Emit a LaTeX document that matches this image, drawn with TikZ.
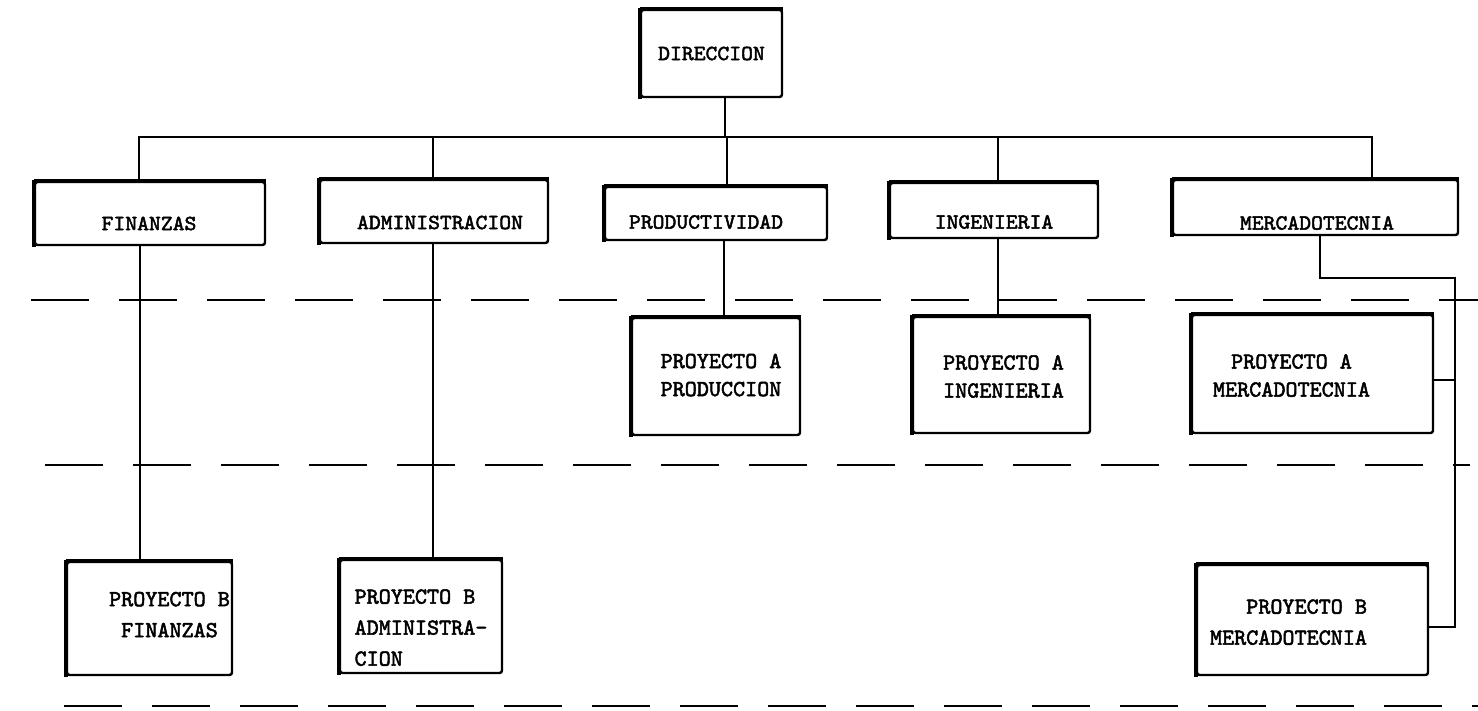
\documentclass[tikz,border=0pt]{standalone}
\usepackage{fontspec}
% slab-serif typewriter lettering, emboldened like a worn ribbon
\newfontfamily\typeA{lmmono10-regular.otf}[FakeBold=2.2,FakeStretch=1.05]
\newfontfamily\typeB{lmmono10-regular.otf}[FakeBold=2.2]
% move a label inside its box without changing the box size
\newcommand\moved[3]{\raisebox{#2}[\height][\depth]{\kern#1\relax#3\kern-#1\relax}}
\newcommand\lines[2]{\begin{tabular}{@{}#1@{}}#2\end{tabular}}

\begin{document}
\begin{tikzpicture}[x=1pt,y=-1pt,
  orgbox/.style={draw, line width=2.4pt, rounded corners=2.5pt, inner sep=0pt,
    font=\typeA\fontsize{21.5}{26}\selectfont},
  projbox/.style={orgbox, font=\typeB\fontsize{23}{28}\selectfont},
  projboxb/.style={orgbox, font=\typeB\fontsize{23}{31}\selectfont},
  conn/.style={line width=1.8pt},
  tier/.style={line width=2.4pt, dash pattern=on 58pt off 30pt}]
\useasboundingbox (0,0) rectangle (1478,711);

% phase separators
\draw[tier] (31,300) -- (1478,300);
\draw[tier] (45,465) -- (1470,465);
\draw[tier] (64,706) -- (1478,706);

% management and departments
\node[orgbox, minimum width=141pt, minimum height=87pt] (dir) at (711.5,53.5) {DIRECCION};
\node[orgbox, minimum width=230pt, minimum height=63pt] (fin) at (150,213.5) {\moved{-1pt}{-10pt}{FINANZAS}};
\node[orgbox, minimum width=228pt, minimum height=63pt] (adm) at (434,211.5) {\moved{6pt}{-11pt}{ADMINISTRACION}};
\node[orgbox, minimum width=222pt, minimum height=53pt] (prod) at (716,213.5) {\moved{-10pt}{-8.5pt}{PRODUCTIVIDAD}};
\node[orgbox, minimum width=208pt, minimum height=55pt] (ing) at (994,210.5) {\moved{0pt}{-11.5pt}{INGENIERIA}};
\node[orgbox, minimum width=285pt, minimum height=55pt] (merc) at (1315.5,207.5) {\moved{1.5pt}{-15.5pt}{MERCADOTECNIA}};

% project A
\node[projbox, minimum width=168pt, minimum height=117pt] (paprod) at (716,376.5) {\moved{5pt}{0pt}{\lines{c}{PROYECTO A\\PRODUCCION}}};
\node[projbox, minimum width=177pt, minimum height=116pt] (paing) at (1001.5,375) {\moved{2pt}{-3pt}{\lines{c}{PROYECTO A\\INGENIERIA}}};
\node[projbox, minimum width=241pt, minimum height=118pt] (pamerc) at (1312.5,374) {\moved{-21pt}{-3pt}{\lines{c}{PROYECTO A\\MERCADOTECNIA}}};

% project B
\node[projboxb, minimum width=165pt, minimum height=113pt] (pbfin) at (149.5,618.5) {\moved{20pt}{3pt}{\lines{c}{PROYECTO B\\FINANZAS}}};
\node[projboxb, minimum width=162pt, minimum height=113pt] (pbadm) at (421,616.5) {\moved{0pt}{-12pt}{\lines{l}{PROYECTO B\\ADMINISTRA-\\CION}}};
\node[projboxb, minimum width=231pt, minimum height=110pt] (pbmerc) at (1312.5,620) {\moved{-24pt}{-3pt}{\lines{r}{PROYECTO B\\MERCADOTECNIA}}};

% heavy left and top edges of every box
\foreach \b in {dir,fin,adm,prod,ing,merc,paprod,paing,pamerc,pbfin,pbadm,pbmerc}{
  \draw[line width=4.5pt] ([yshift=-1pt]\b.south west) -- ([yshift=1pt]\b.north west);
  \draw[line width=3.5pt] (\b.north west) -- (\b.north east);
}

% bus under management
\coordinate (busy) at (0,137);
\path ([xshift=13.5pt]dir.south) coordinate (d0)
      ([xshift=-11pt]fin.north) coordinate (f0)
      ([xshift=-1pt]adm.north) coordinate (a0)
      ([xshift=11pt]prod.north) coordinate (p0)
      ([xshift=4pt]ing.north) coordinate (i0)
      ([xshift=56.5pt]merc.north) coordinate (m0);
\draw[conn] (d0) -- (d0 |- busy);
\draw[conn] (f0) |- (m0 |- busy) -- (m0);
\draw[conn] (a0) -- (a0 |- busy);
\draw[conn] (p0) -- (p0 |- busy);
\draw[conn] (i0) -- (i0 |- busy);

% departments to their projects
\coordinate (mv) at (1455,278);
\path ([xshift=-10pt]fin.south) coordinate (f1)
      ([xshift=-1pt]adm.south) coordinate (a1)
      ([xshift=8pt]prod.south) coordinate (p1)
      ([xshift=4pt]ing.south) coordinate (i1)
      ([xshift=4.5pt]merc.south) coordinate (m1)
      ([yshift=-6pt]pamerc.east) coordinate (pa1)
      ([yshift=-7pt]pbmerc.east) coordinate (pb1);
\draw[conn] (f1) -- (f1 |- pbfin.north);
\draw[conn] (a1) -- (a1 |- pbadm.north);
\draw[conn] (p1) -- (p1 |- paprod.north);
\draw[conn] (i1) -- (i1 |- paing.north);
\draw[conn] (m1) |- (mv) |- (pb1);
\draw[conn] (pa1) -- (pa1 -| mv);
\end{tikzpicture}
\end{document}
